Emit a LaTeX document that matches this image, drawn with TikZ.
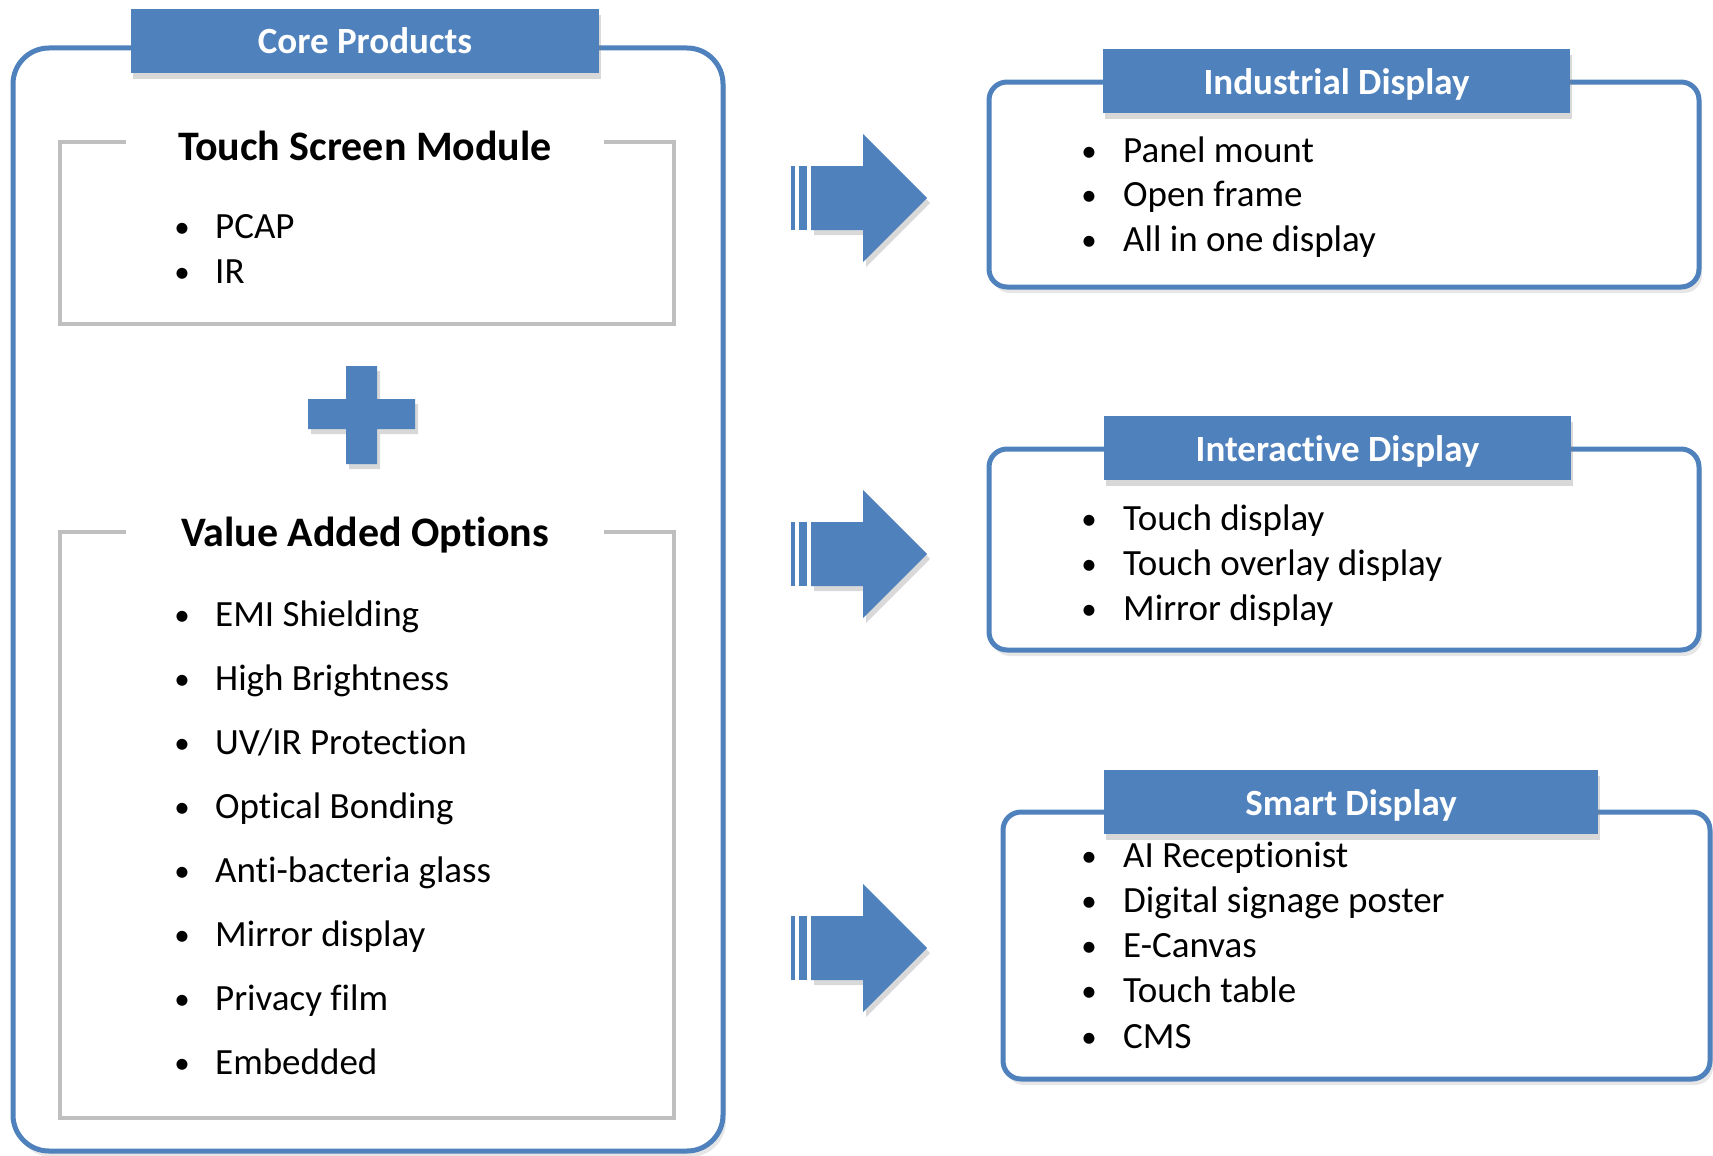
\documentclass[tikz,border=0pt]{standalone}
\usepackage{fontspec}
\setmainfont{Carlito}[Ligatures=NoCommon]
\usetikzlibrary{shadows,positioning}

\definecolor{hdrblue}{HTML}{4F81BD}
\definecolor{framegray}{HTML}{BFBFBF}

\newcommand{\itemfont}{\fontsize{37}{44}\selectfont}
\newcommand{\hdrfont}{\fontsize{37}{44}\selectfont\bfseries}
\newcommand{\grpfont}{\fontsize{42}{50}\selectfont\bfseries}

\tikzset{
  header/.style={fill=hdrblue, text=white, font=\hdrfont, inner sep=0pt,
    minimum height=64pt, text height=30pt, text depth=4pt,
    drop shadow={opacity=.3, shadow xshift=2pt, shadow yshift=-6pt}},
  outerbox/.style={draw=hdrblue, line width=5pt, fill=white,
    drop shadow={opacity=.2, shadow xshift=3pt, shadow yshift=-6pt}},
  graybox/.style={draw=framegray, line width=4pt},
  grouptitle/.style={fill=white, font=\grpfont, inner sep=0pt,
    minimum width=478pt, text height=32pt, text depth=4pt},
  item/.style={anchor=west, font=\itemfont, inner sep=0pt,
    text height=30pt, text depth=6pt},
  dot/.style={font=\fontsize{31}{44}\selectfont, inner sep=0pt,
    text height=27pt, text depth=5pt},
  bluefill/.style={fill=hdrblue,
    drop shadow={opacity=.3, shadow xshift=3pt, shadow yshift=-5pt}}
}

\begin{document}
\begin{tikzpicture}[x=1pt,y=-1pt]
  % canvas
  \useasboundingbox (0,0) rectangle (1713,1156);

  % left frame: core products
  \draw[outerbox, rounded corners=36pt] (13,48) rectangle (723,1151);
  \node[header, minimum width=468pt] (core) at (365,41) {Core Products};

  % touch screen module group
  \draw[graybox] (60,142) rectangle (674,324);
  \node[grouptitle] (tsm) at (365,146) {Touch Screen Module};
  \foreach \t [count=\i] in {PCAP, IR} {
    \node[dot] (tsm-b\i) at (182,181+45*\i) {•};
    \node[item] (tsm-\i) at (215,181+45*\i) {\t};
  }

  % plus sign
  \path[bluefill] (346,366) -- (377,366) -- (377,399) -- (415,399) -- (415,429)
    -- (377,429) -- (377,464) -- (346,464) -- (346,429) -- (308,429)
    -- (308,399) -- (346,399) -- cycle;

  % value added options group
  \draw[graybox] (60,532) rectangle (674,1118);
  \node[grouptitle] (vao) at (365,532) {Value Added Options};
  \foreach \t [count=\i] in {EMI Shielding, High Brightness, UV/IR Protection,
      Optical Bonding, Anti-bacteria glass, Mirror display, Privacy film, Embedded} {
    \node[dot] (vao-b\i) at (182,550+64*\i) {•};
    \node[item] (vao-\i) at (215,550+64*\i) {\t};
  }

  % striped arrows
  \foreach \c in {198,554,948} {
    \fill[hdrblue] (791,\c-32) rectangle (795,\c+32);
    \fill[hdrblue] (799,\c-32) rectangle (807,\c+32);
    \path[bluefill] (811,\c-32) -- (863,\c-32) -- (863,\c-64) -- (927,\c)
      -- (863,\c+64) -- (863,\c+32) -- (811,\c+32) -- cycle;
  }

  % industrial display
  \draw[outerbox, rounded corners=18pt] (989,82) rectangle (1699,287);
  \node[header, minimum width=467pt] (ind) at (1336.5,81) {Industrial Display};
  \foreach \t [count=\i] in {Panel mount, Open frame, All in one display} {
    \node[dot] (ind-b\i) at (1089,105.5+44.5*\i) {•};
    \node[item] (ind-\i) at (1123,105.5+44.5*\i) {\t};
  }

  % interactive display
  \draw[outerbox, rounded corners=18pt] (989,449) rectangle (1699,650);
  \node[header, minimum width=467pt] (int) at (1337.5,448) {Interactive Display};
  \foreach \t [count=\i] in {Touch display, Touch overlay display, Mirror display} {
    \node[dot] (int-b\i) at (1089,473+45*\i) {•};
    \node[item] (int-\i) at (1123,473+45*\i) {\t};
  }

  % smart display
  \draw[outerbox, rounded corners=18pt] (1003,812) rectangle (1710,1079);
  \node[header, minimum width=494pt] (sma) at (1351,802) {Smart Display};
  \foreach \t [count=\i] in {AI Receptionist, Digital signage poster, E-Canvas,
      Touch table, CMS} {
    \node[dot] (sma-b\i) at (1089,810+45.2*\i) {•};
    \node[item] (sma-\i) at (1123,810+45.2*\i) {\t};
  }
\end{tikzpicture}
\end{document}
